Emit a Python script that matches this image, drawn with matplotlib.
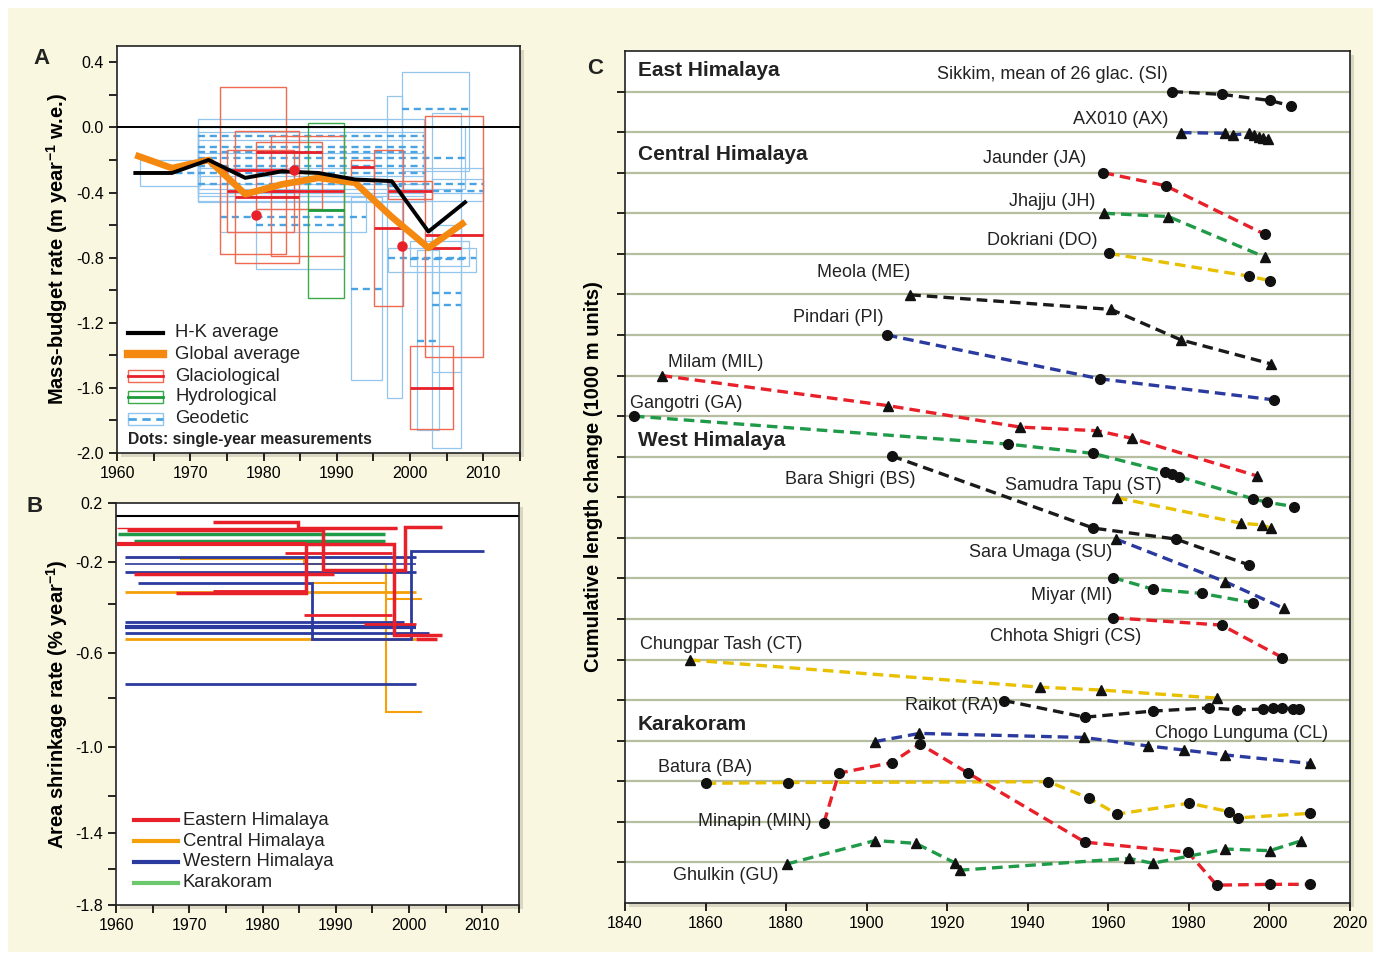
import numpy as np
import matplotlib
matplotlib.use('Agg')
import matplotlib.pyplot as plt
from matplotlib.patches import Rectangle
from matplotlib.lines import Line2D

plt.rcParams['font.family'] = ['Liberation Sans', 'DejaVu Sans']
plt.rcParams['axes.unicode_minus'] = False
plt.rcParams['mathtext.default'] = 'regular'

# ---------------- Panel A data ----------------
avg_years = [1962.5, 1967.5, 1972.5, 1977.5, 1982.5, 1987.5, 1992.5, 1997.5, 2002.5, 2007.5]
hk_rate = [-0.28, -0.28, -0.20, -0.31, -0.27, -0.28, -0.32, -0.33, -0.64, -0.46]
global_rate = [-0.17, -0.25, -0.20, -0.41, -0.35, -0.31, -0.34, -0.55, -0.74, -0.58]

glac_start = [1974.0, 1976.1, 1975.0, 1979.0, 1981.0, 1992.0, 1995.1, 1997.0, 2002.1, 2000.0, 2002.3]
glac_end = [1983.1, 1984.9, 1984.1, 1988.0, 1991.0, 1995.1, 1999.0, 2003.0, 2010.0, 2005.9, 2007.0]
glac_low = [-0.78, -0.83, -0.64, -0.50, -0.79, -0.33, -1.10, -0.44, -1.41, -1.85, -0.74]
glac_high = [0.25, -0.02, -0.14, -0.09, -0.05, -0.20, -0.14, -0.33, 0.07, -1.34, -0.74]
glac_mid = [-0.26, -0.43, -0.39, -0.15, -0.39, -0.245, -0.62, -0.39, -0.66, -1.60, -0.74]

glac_dot_year = [1979.0, 1984.1, 1998.9]
glac_dot_rate = [-0.54, -0.26, -0.73]

hydro_start = [1986.0]
hydro_end = [1991.0]
hydro_low = [-1.05]
hydro_high = [0.03]
hydro_mid = [-0.51]

geo_start = [1971.1, 1971.1, 1971.1, 1971.1, 1971.1, 1971.1, 1971.1, 1963.2, 1998.9, 1996.9,
             1992.0, 2003.0, 1997.0, 2001.0, 1974.0, 1979.0, 2003.0, 2003.0, 2000.0]
geo_end = [2001.9, 2001.9, 2001.9, 2007.5, 2001.9, 2002.0, 2010.0, 1971.3, 2008.0, 1998.9,
           1996.1, 2007.0, 2009.0, 2004.0, 1994.0, 1991.0, 2010.0, 2007.0, 2008.0]
geo_low = [-0.46, -0.30, -0.35, -0.38, -0.42, -0.40, -0.45, -0.36, -0.27, -1.66,
           -1.55, -1.97, -0.89, -1.86, -0.64, -0.87, -0.40, -1.50, -0.85]
geo_high = [0.05, 0.00, -0.03, 0.00, -0.08, -0.16, -0.25, -0.20, 0.34, 0.19,
            -0.43, 0.09, -0.74, -0.75, -0.42, -0.50, -0.32, -0.60, -0.70]
geo_mid = [-0.05, -0.12, -0.15, -0.19, -0.24, -0.28, -0.35, -0.28, 0.11, -0.36,
           -0.99, -1.02, -0.80, -1.31, -0.55, -0.60, -0.39, -1.09, -0.81]

a_tick_labels = ['-2.0', '-1.6', '-1.2', '-0.8', '-0.4', '0.0', '0.4']

# ---------------- Panel B data ----------------
east_edges = [[1960.1, 1998.4], [1973.2, 1984.9, 1998.4], [1961.5, 1988.2, 1999.5, 2004.5],
              [1960.1, 1985.9], [1968.2, 1985.9, 1997.9, 2004.5], [1973.2, 1985.9],
              [1983.0, 1997.7], [1962.4, 1989.8], [1985.7, 1997.7], [1993.8, 2000.9],
              [2000.9, 2003.8]]
east_rates = [[-0.052], [-0.027, -0.052], [-0.062, -0.238, -0.048],
              [-0.122], [-0.348, -0.122, -0.529], [-0.346],
              [-0.161], [-0.259], [-0.448], [-0.484],
              [-0.543]]
central_edges = [[1968.7, 1985.7, 1996.8, 2001.8], [1986.8, 1996.8], [1961.2, 2000.9],
                 [1996.8, 2001.8], [1961.2, 2000.9]]
central_rates = [[-0.186, -0.208, -0.857], [-0.302], [-0.346], [-0.380], [-0.543]]
west_edges = [[1961.2, 2000.9], [1961.2, 2000.9], [1961.2, 2000.9],
              [1963.0, 1986.8, 2000.2, 2010.2], [1961.2, 1999.3], [1961.2, 2000.9],
              [1961.2, 2002.7], [1961.2, 2000.9]]
west_rates = [[-0.175], [-0.210], [-0.249], [-0.302, -0.545, -0.153], [-0.475], [-0.495],
              [-0.520], [-0.738]]
kara_edges = [[1960.3, 1996.7], [1962.4, 1996.7]]
kara_rates = [[-0.077], [-0.107]]

# irregular vertical axis of panel B (tick value -> position)
b_axis_vals = [-1.8, -1.6, -1.4, -1.2, -1.0, -0.8, -0.6, -0.4, -0.2, 0.0, 0.2]
b_axis_pos = [0, 36, 72, 108, 157, 206, 251, 300, 341, 387, 400]
b_ticks = [0.2, -0.2, -0.4, -0.6, -0.8, -1.0, -1.2, -1.4, -1.6, -1.8]
b_tick_labels = ['0.2', '-0.2', '', '-0.6', '', '-1.0', '', '-1.4', '', '-1.8']

# ---------------- Panel C data ----------------
si_year = [1975.9, 1988.3, 2000.1, 2005.3]
si_len = [20.0, 19.93, 19.78, 19.65]
ax_year = [1978.0, 1989.0, 1991.0, 1995.0, 1996.2, 1997.3, 1998.5, 1999.7]
ax_len = [18.99, 18.97, 18.93, 18.97, 18.93, 18.87, 18.85, 18.82]
ja_year = [1958.8, 1974.2, 1998.9]
ja_len = [18.0, 17.68, 16.48]
jh_year = [1959.0, 1974.9, 1998.9]
jh_len = [17.0, 16.92, 15.92]
do_year = [1960.2, 1995.0, 2000.1]
do_len = [16.01, 15.45, 15.34]
me_year = [1910.8, 1960.7, 1978.0, 2000.3]
me_len = [14.99, 14.63, 13.88, 13.29]
pi_year = [1905.0, 1957.9, 2001.2]
pi_len = [14.0, 12.92, 12.40]
mil_year = [1849.1, 1905.2, 1938.1, 1957.3, 1966.0, 1996.8]
mil_len = [13.0, 12.26, 11.73, 11.64, 11.45, 10.53]
ga_year = [1842.2, 1935.2, 1956.3, 1974.1, 1975.7, 1977.5, 1996.0, 1999.3, 2006.1]
ga_len = [12.0, 11.31, 11.08, 10.63, 10.57, 10.51, 9.96, 9.88, 9.77]
bs_year = [1906.2, 1956.3, 1976.8, 1995.0]
bs_len = [11.02, 9.24, 8.97, 8.33]
st_year = [1962.1, 1993.0, 1998.1, 2000.3]
st_len = [9.99, 9.36, 9.32, 9.24]
su_year = [1961.9, 1989.0, 2003.6]
su_len = [8.97, 7.92, 7.26]
mi_year = [1961.2, 1971.2, 1983.2, 1996.0]
mi_len = [8.02, 7.73, 7.63, 7.40]
cs_year = [1961.2, 1988.1, 2003.2]
cs_len = [7.03, 6.85, 6.05]
ct_year = [1856.1, 1943.0, 1958.1, 1987.0]
ct_len = [5.99, 5.32, 5.25, 5.05]
ra_year = [1934.1, 1954.2, 1971.0, 1985.1, 1992.0, 1998.3, 2001.0, 2003.2, 2005.9, 2007.4]
ra_len = [4.99, 4.58, 4.73, 4.81, 4.76, 4.78, 4.80, 4.80, 4.79, 4.79]
cl_year = [1902.1, 1913.1, 1953.9, 1969.9, 1978.8, 1989.0, 2010.1]
cl_len = [3.98, 4.18, 4.08, 3.87, 3.77, 3.65, 3.44]
ba_year = [1860.0, 1880.4, 1945.1, 1955.3, 1962.1, 1980.1, 1990.0, 1992.3, 2010.1]
ba_len = [2.95, 2.97, 2.99, 2.58, 2.19, 2.46, 2.25, 2.10, 2.21]
min_year = [1889.4, 1893.1, 1906.2, 1913.2, 1925.2, 1954.2, 1979.8, 1986.9, 2000.1, 2010.1]
min_len = [1.98, 3.20, 3.46, 3.92, 3.20, 1.50, 1.25, 0.44, 0.46, 0.46]
gu_year = [1880.2, 1902.1, 1912.2, 1921.9, 1923.2, 1965.1, 1971.0, 1989.0, 2000.1, 2007.8]
gu_len = [0.96, 1.54, 1.47, 0.99, 0.81, 1.10, 0.98, 1.33, 1.29, 1.53]

# ---------------- colours ----------------
C_RED = '#e8202a'
C_ORANGE = '#f5a00a'
C_BLUE = '#2b3a9e'
C_GREEN = '#1f9a48'
C_YEL = '#e8c000'
C_BLK = '#1a1a1a'
TXT = '#222222'

W, H = 1381, 960
fig = plt.figure(figsize=(W / 100, H / 100), dpi=100)
fig.patch.set_facecolor('white')
fig.patches.append(Rectangle((8 / W, 8 / H), 1365 / W, 944 / H, transform=fig.transFigure,
                             facecolor='#f9f7df', edgecolor='none', zorder=-10))


def px_axes(l, t, r, b):
    # soft shadow behind each panel
    fig.patches.append(Rectangle(((l + 4) / W, 1 - (b + 4) / H), (r - l) / W, (b - t) / H,
                                 transform=fig.transFigure, facecolor='#d9d7c3',
                                 edgecolor='none', zorder=-5))
    return fig.add_axes([l / W, 1 - b / H, (r - l) / W, (b - t) / H])


# =============== Panel A ===============
axA = px_axes(117, 46, 520, 453)
for x0, x1, lo, hi, mid in zip(geo_start, geo_end, geo_low, geo_high, geo_mid):
    axA.add_patch(Rectangle((x0, lo), x1 - x0, hi - lo, fill=False, ec='#93c6ec', lw=0.9, zorder=1))
    axA.hlines(mid, x0, x1, colors='#4aa3e2', lw=1.7, linestyles=(0, (3, 2)), zorder=1.5)
for x0, x1, lo, hi, mid in zip(glac_start, glac_end, glac_low, glac_high, glac_mid):
    axA.add_patch(Rectangle((x0, lo), x1 - x0, hi - lo, fill=False, ec='#ef6a50', lw=1.0, zorder=2))
    axA.hlines(mid, x0, x1, colors=C_RED, lw=2.0, zorder=2.5)
for x0, x1, lo, hi, mid in zip(hydro_start, hydro_end, hydro_low, hydro_high, hydro_mid):
    axA.add_patch(Rectangle((x0, lo), x1 - x0, hi - lo, fill=False, ec='#3aaa4a', lw=1.0, zorder=2))
    axA.hlines(mid, x0, x1, colors='#1e9a3a', lw=2.0, zorder=2.5)
axA.axhline(0, color='black', lw=1.4, zorder=3)
axA.plot(avg_years, global_rate, color='#f5880f', lw=4.8, solid_capstyle='butt', zorder=4)
axA.plot(avg_years, hk_rate, color='black', lw=2.8, zorder=5)
axA.plot(glac_dot_year, glac_dot_rate, 'o', color=C_RED, ms=6.5, zorder=6)
axA.set_xlim(1960, 2015)
axA.set_ylim(-2.0, 0.5)
axA.set_xticks(range(1960, 2011, 10))
axA.set_xticks(range(1965, 2016, 10), minor=True)
axA.set_yticks([-2.0, -1.6, -1.2, -0.8, -0.4, 0.0, 0.4])
axA.set_yticks([-1.8, -1.4, -1.0, -0.6, -0.2, 0.2], minor=True)
axA.set_yticklabels(a_tick_labels)
axA.tick_params(which='both', direction='out', length=6, width=1.2, labelsize=11.5)
axA.set_ylabel(r'Mass-budget rate (m year$^{-1}$ w.e.)', fontsize=14.5, fontweight='bold', labelpad=4)

# manual legend (axes fraction)
lx0, lx1, tx = 0.027, 0.114, 0.144
leg_y = [0.295, 0.243, 0.189, 0.138, 0.084]
tr = axA.transAxes
axA.add_line(Line2D([lx0, lx1], [leg_y[0]] * 2, color='black', lw=3, transform=tr, zorder=7))
axA.add_line(Line2D([lx0, lx1], [leg_y[1]] * 2, color='#f5880f', lw=6, transform=tr, zorder=7))
for yy, ec, lc, ls in [(leg_y[2], '#ef6a50', C_RED, '-'), (leg_y[3], '#3aaa4a', '#1e9a3a', '-'),
                       (leg_y[4], '#93c6ec', '#4aa3e2', (0, (3, 2)))]:
    axA.add_patch(Rectangle((lx0, yy - 0.014), lx1 - lx0, 0.028, fill=False, ec=ec, lw=1,
                            transform=tr, zorder=7))
    axA.add_line(Line2D([lx0, lx1], [yy, yy], color=lc, lw=2, ls=ls, transform=tr, zorder=7))
for yy, lab in zip(leg_y, ['H-K average', 'Global average', 'Glaciological', 'Hydrological', 'Geodetic']):
    axA.text(tx, yy, lab, transform=tr, fontsize=13.3, va='center', color=TXT)
axA.text(0.027, 0.032, 'Dots: single-year measurements', transform=tr, fontsize=11.3,
         fontweight='bold', va='center', color=TXT)

# =============== Panel B ===============
axB = px_axes(116, 503, 519, 905)


def b_fwd(v):
    return np.interp(v, b_axis_vals, b_axis_pos)


def b_inv(p):
    return np.interp(p, b_axis_pos, b_axis_vals)


axB.set_yscale('function', functions=(b_fwd, b_inv))
axB.set_ylim(-1.8, 0.21)
axB.axhline(0, color='black', lw=1.5, zorder=1)

east_lw = [1.0, 2.5, 2.5, 3.0, 2.5, 3.5, 2.0, 2.5, 2.0, 2.0, 2.5]
central_lw = [1.5, 1.5, 2.0, 1.5, 2.0]
west_lw = [2.0, 1.2, 2.0, 2.0, 2.0, 3.0, 2.0, 2.0]
kara_lw = [2.5, 2.5]
for e, r, w in zip(kara_edges, kara_rates, kara_lw):
    axB.stairs(r, e, baseline=None, color=C_GREEN, lw=w, zorder=2)
for e, r, w in zip(central_edges, central_rates, central_lw):
    axB.stairs(r, e, baseline=None, color=C_ORANGE, lw=w, zorder=2)
for e, r, w in zip(west_edges, west_rates, west_lw):
    axB.stairs(r, e, baseline=None, color=C_BLUE, lw=w, zorder=3)
for e, r, w in zip(east_edges, east_rates, east_lw):
    axB.stairs(r, e, baseline=None, color=C_RED, lw=w, zorder=3)

axB.set_xlim(1960, 2015)
axB.set_xticks(range(1960, 2011, 10))
axB.set_xticks(range(1965, 2016, 10), minor=True)
axB.set_yticks(b_ticks)
axB.set_yticks([], minor=True)
axB.set_yticklabels(b_tick_labels)
axB.tick_params(which='both', direction='out', length=6, width=1.2, labelsize=11.5)
axB.set_ylabel(r'Area shrinkage rate (% year$^{-1}$)', fontsize=14.5, fontweight='bold', labelpad=4)

trB = axB.transAxes
for yy, col, lab in zip([0.211, 0.159, 0.107, 0.055], [C_RED, C_ORANGE, C_BLUE, '#6cc86c'],
                        ['Eastern Himalaya', 'Central Himalaya', 'Western Himalaya', 'Karakoram']):
    axB.add_line(Line2D([0.045, 0.154], [yy, yy], color=col, lw=3, transform=trB))
    axB.text(0.166, yy, lab, transform=trB, fontsize=13.3, va='center', color=TXT)

# =============== Panel C ===============
axC = px_axes(625, 51, 1350, 903)
axC.set_xlim(1840, 2020)
axC.set_ylim(0, 21)
for g in range(1, 21):
    axC.axhline(g, color='#b5bfa0', lw=1.6, zorder=0)

series = [
    (si_year, si_len, C_BLK, 'o'), (ax_year, ax_len, C_BLUE, '^'),
    (ja_year, ja_len, C_RED, 'o'), (jh_year, jh_len, C_GREEN, '^'),
    (do_year, do_len, C_YEL, 'o'), (me_year, me_len, C_BLK, '^'),
    (pi_year, pi_len, C_BLUE, 'o'), (mil_year, mil_len, C_RED, '^'),
    (ga_year, ga_len, C_GREEN, 'o'), (bs_year, bs_len, C_BLK, 'o'),
    (st_year, st_len, C_YEL, '^'), (su_year, su_len, C_BLUE, '^'),
    (mi_year, mi_len, C_GREEN, 'o'), (cs_year, cs_len, C_RED, 'o'),
    (ct_year, ct_len, C_YEL, '^'), (ra_year, ra_len, C_BLK, 'o'),
    (cl_year, cl_len, C_BLUE, '^'), (ba_year, ba_len, C_YEL, 'o'),
    (min_year, min_len, C_RED, 'o'), (gu_year, gu_len, C_GREEN, '^'),
]
for yrs, vals, col, mk in series:
    axC.plot(yrs, vals, color=col, lw=2.4, ls=(0, (3.2, 1.8)), zorder=2)
    axC.plot(yrs, vals, ls='none', marker=mk, color='#111111', ms=7 if mk == 'o' else 6.5, zorder=3)

labels_right = [
    ('Sikkim, mean of 26 glac. (SI)', 1974.8, 20.41), ('AX010 (AX)', 1974.8, 19.30),
    ('Jaunder (JA)', 1954.4, 18.36), ('Jhajju (JH)', 1956.9, 17.30),
    ('Dokriani (DO)', 1957.4, 16.32), ('Meola (ME)', 1910.8, 15.53),
    ('Pindari (PI)', 1904.3, 14.44), ('Bara Shigri (BS)', 1912.2, 10.43),
    ('Samudra Tapu (ST)', 1973.3, 10.28), ('Sara Umaga (SU)', 1960.9, 8.63),
    ('Miyar (MI)', 1960.9, 7.59), ('Chhota Shigri (CS)', 1968.1, 6.56),
    ('Raikot (RA)', 1932.6, 4.88), ('Chogo Lunguma (CL)', 2014.5, 4.17),
    ('Minapin (MIN)', 1886.4, 2.0), ('Ghulkin (GU)', 1878.0, 0.67),
]
labels_left = [
    ('Milam (MIL)', 1850.7, 13.31), ('Gangotri (GA)', 1841.2, 12.32),
    ('Chungpar Tash (CT)', 1843.7, 6.38), ('Batura (BA)', 1848.2, 3.35),
]
for txt, xx, yy in labels_right:
    axC.text(xx, yy, txt, ha='right', va='center', fontsize=13, color=TXT, zorder=4)
for txt, xx, yy in labels_left:
    axC.text(xx, yy, txt, ha='left', va='center', fontsize=13, color=TXT, zorder=4)
for txt, yy in [('East Himalaya', 20.53), ('Central Himalaya', 18.44),
                ('West Himalaya', 11.41), ('Karakoram', 4.41)]:
    axC.text(1843.2, yy, txt, ha='left', va='center', fontsize=15, fontweight='bold',
             color=TXT, zorder=4)

axC.set_xticks(range(1840, 2021, 20))
axC.set_yticks(range(1, 21))
axC.set_yticklabels([])
axC.tick_params(axis='x', direction='out', length=6, width=1.2, labelsize=11.5)
axC.tick_params(axis='y', direction='out', length=6, width=1.2)
axC.set_ylabel('Cumulative length change (1000 m units)', fontsize=14.5, fontweight='bold', labelpad=6)

for a in (axA, axB, axC):
    a.set_facecolor('white')
    for s in a.spines.values():
        s.set_linewidth(1.2)
        s.set_color(TXT)

fig.text(41 / W, 1 - 58 / H, 'A', fontsize=16, fontweight='bold', ha='center', va='center', color=TXT)
fig.text(35 / W, 1 - 506 / H, 'B', fontsize=16, fontweight='bold', ha='center', va='center', color=TXT)
fig.text(595 / W, 1 - 68 / H, 'C', fontsize=16, fontweight='bold', ha='center', va='center', color=TXT)

fig.savefig('out.png', dpi=100, facecolor=fig.get_facecolor())
